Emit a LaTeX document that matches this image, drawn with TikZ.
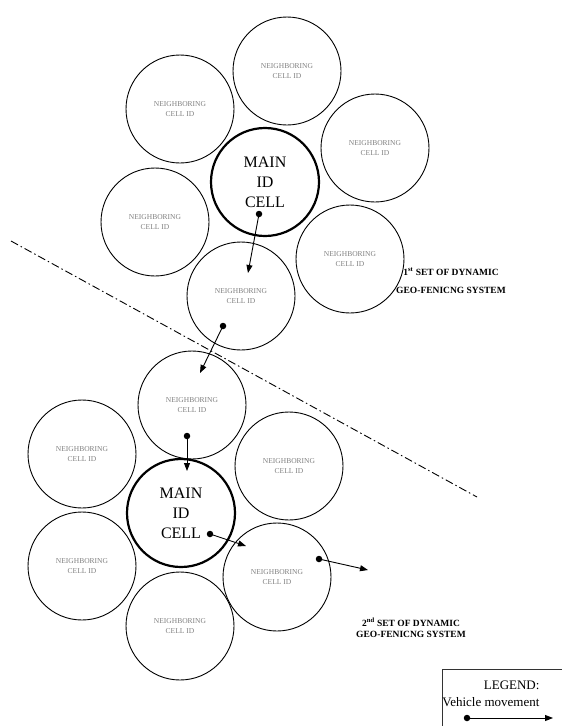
\documentclass[tikz,border=0pt]{standalone}
\usepackage{fontspec}
\setmainfont{Liberation Serif}
\usetikzlibrary{arrows.meta}

\tikzset{
  cell/.style={circle,draw,line width=0.9pt,fill=white,minimum size=108pt,inner sep=0pt,
    align=center,text=black!50,font=\fontsize{7.5}{10}\selectfont},
  maincell/.style={cell,line width=2.2pt,text=black,font=\fontsize{16}{20}\selectfont},
  dot/.style={circle,fill=black,inner sep=0pt,minimum size=6.5pt},
  move/.style={line width=0.9pt,-{Triangle[length=8pt,width=6pt]}},
  fence/.style={line width=0.9pt,dash pattern=on 8pt off 3pt on 1.5pt off 3pt},
  setlabel/.style={align=center,font=\bfseries\fontsize{9.5}{18}\selectfont}
}

\begin{document}
\begin{tikzpicture}[x=1pt,y=-1pt]
\useasboundingbox (0,0) rectangle (562,726);

% labels of the two sets (partly under the cells)
\node[setlabel] (set1) at (451,281) {1\textsuperscript{st} SET OF DYNAMIC\\GEO-FENICNG SYSTEM};
\node[setlabel,font=\bfseries\fontsize{9.5}{11}\selectfont] (set2) at (411,628)
  {2\textsuperscript{nd} SET OF DYNAMIC\\GEO-FENICNG SYSTEM};

% border between the two sets
\coordinate (fenceA) at (11,241);
\coordinate (fenceB) at (477,497);
\draw[fence] (fenceA) -- (fenceB);

% first set
\foreach \name/\x/\y in {a1/287/71, a2/180/109, a3/375/148, a4/155/222, a5/350/259, a6/241/296}
   \node[cell] (\name) at (\x,\y) {NEIGHBORING\\CELL ID};
\node[maincell] (main1) at (265,182) {MAIN\\ID\\CELL};

% second set
\foreach \name/\x/\y in {b1/192/405, b2/82/454, b3/289/466, b4/277/577, b5/82/566, b6/180/626}
   \node[cell] (\name) at (\x,\y) {NEIGHBORING\\CELL ID};
\node[maincell] (main2) at (181,513) {MAIN\\ID\\CELL};

% vehicle movement
\node[dot] (d1) at (259,214) {};
\node[dot] (d2) at (223,326) {};
\node[dot] (d3) at (187,436) {};
\node[dot] (d4) at (210,534) {};
\node[dot] (d5) at (319,559) {};
\coordinate (t1) at (248,273);
\coordinate (t2) at (200,373);
\coordinate (t3) at (187,471);
\coordinate (t4) at (246,546);
\coordinate (t5) at (368,570);
\foreach \i in {1,...,5}
   \draw[move] (d\i.center) -- (t\i);

% legend
\draw[line width=0.8pt,black!80] (562,669) -- (442,669) -- (442,726);
\node[align=right,anchor=east,font=\fontsize{13}{17}\selectfont] (legend) at (543,694)
  {LEGEND:\\Vehicle movement};
\node[dot] (legdot) at (467,718) {};
\coordinate (legtip) at (553,718);
\draw[move] (legdot.center) -- (legtip);
\end{tikzpicture}
\end{document}
